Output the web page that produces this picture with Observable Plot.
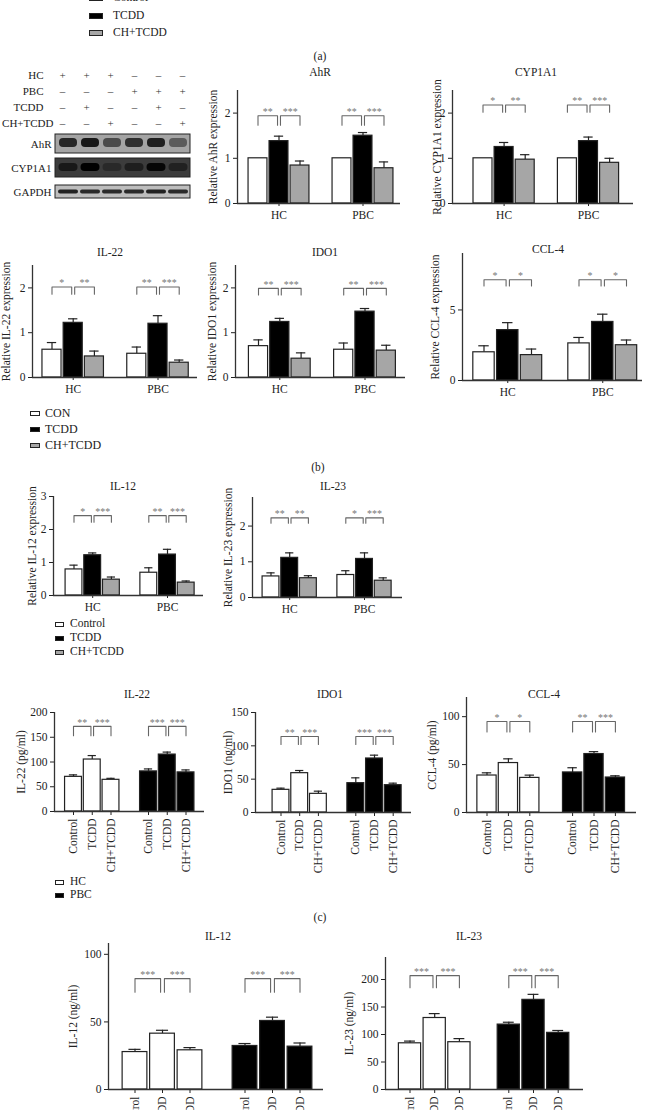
<!DOCTYPE html>
<html><head><meta charset="utf-8">
<script src="https://cdn.jsdelivr.net/npm/d3@7"></script>
<script src="https://cdn.jsdelivr.net/npm/@observablehq/plot@0.6"></script>
<style>
html,body{margin:0;padding:0;background:#fff;}
#root{position:relative;width:650px;height:1110px;overflow:hidden;font-family:"Liberation Serif","Times New Roman",serif;color:#222;}
.t{position:absolute;transform:translate(-50%,-50%);white-space:nowrap;font-size:11.5px;line-height:1;}
.lt{position:absolute;transform:translateY(-50%);white-space:nowrap;line-height:1;}
.sw{position:absolute;box-sizing:border-box;border:1px solid #222;}
svg{overflow:visible;}
</style></head><body><div id="root"></div>
<script>
// ---------- data ----------
const groups = ["HC", "PBC"];
const treatments = ["Control", "TCDD", "CH+TCDD"];
const legendA = ["Control", "TCDD", "CH+TCDD"];
const legendB = ["CON", "TCDD", "CH+TCDD"];

// western blot (a)
const lanes = [1, 2, 3, 4, 5, 6];
const matrixRows = ["HC", "PBC", "TCDD", "CH+TCDD"];
const signHC = ["+", "+", "+", "–", "–", "–"];
const signPBC = ["–", "–", "–", "+", "+", "+"];
const signTCDD = ["–", "+", "–", "–", "+", "–"];
const signCH = ["–", "–", "+", "–", "–", "+"];
const blotNames = ["AhR", "CYP1A1", "GAPDH"];
const ahrBand = [0.85, 0.95, 0.6, 0.8, 0.9, 0.5];
const cypBand = [0.6, 1.0, 0.3, 0.5, 0.9, 0.45];
const gapdhBand = [0.9, 0.85, 0.85, 0.85, 0.9, 0.85];

// relative expression (a)/(b): order HC Control, TCDD, CH+TCDD, PBC Control, TCDD, CH+TCDD
const ahrMean = [1.00, 1.38, 0.84, 1.00, 1.50, 0.78];
const ahrErr = [0, 0.11, 0.10, 0, 0.07, 0.14];
const ahrSig = ["**", "***", "**", "***"];
const cypMean = [1.00, 1.25, 0.97, 1.00, 1.38, 0.90];
const cypErr = [0, 0.10, 0.11, 0, 0.09, 0.10];
const cypSig = ["*", "**", "**", "***"];
const il22bMean = [0.62, 1.22, 0.47, 0.53, 1.20, 0.33];
const il22bErr = [0.16, 0.09, 0.12, 0.15, 0.18, 0.06];
const il22bSig = ["*", "**", "**", "***"];
const ido1bMean = [0.70, 1.24, 0.42, 0.62, 1.47, 0.60];
const ido1bErr = [0.14, 0.08, 0.13, 0.15, 0.07, 0.12];
const ido1bSig = ["**", "***", "**", "***"];
const ccl4bMean = [2.00, 3.57, 1.80, 2.63, 4.15, 2.50];
const ccl4bErr = [0.46, 0.53, 0.43, 0.42, 0.55, 0.37];
const ccl4bSig = ["*", "*", "*", "*"];
const il12bMean = [0.79, 1.22, 0.48, 0.69, 1.24, 0.39];
const il12bErr = [0.13, 0.07, 0.08, 0.15, 0.16, 0.05];
const il12bSig = ["*", "***", "**", "***"];
const il23bMean = [0.59, 1.11, 0.54, 0.63, 1.08, 0.47];
const il23bErr = [0.10, 0.14, 0.07, 0.12, 0.17, 0.08];
const il23bSig = ["**", "**", "*", "***"];

// ELISA (c)
const il22cMean = [70, 105, 64, 81, 115, 79];
const il22cErr = [4, 8, 3, 5, 5, 5];
const il22cSig = ["**", "***", "***", "***"];
const ido1cMean = [34, 59, 28, 44, 81, 41];
const ido1cErr = [2.5, 4, 4, 8, 5, 3];
const ido1cSig = ["**", "***", "***", "***"];
const ccl4cMean = [38.6, 51.6, 36.1, 41.8, 61, 36.5];
const ccl4cErr = [2.8, 4.4, 2.9, 4.9, 2.5, 1.8];
const ccl4cSig = ["*", "*", "**", "***"];
const il12cMean = [27.7, 41.3, 29, 32.2, 50.7, 31.7];
const il12cErr = [2, 2.5, 2, 1.8, 2.8, 2.7];
const il12cSig = ["***", "***", "***", "***"];
const il23cMean = [84, 130, 86, 118, 163, 103];
const il23cErr = [4, 8, 6.5, 4.3, 10, 4.3];
const il23cSig = ["***", "***", "***", "***"];

// ---------- styles ----------
const FONT = '"Liberation Serif","Times New Roman",serif';
const treatFill = {"Control": "#ffffff", "TCDD": "#000000", "CH+TCDD": "#a6a6a6"};
const groupFill = {"HC": "#ffffff", "PBC": "#000000"};
const blotBg = {"AhR": "#a4a4a4", "CYP1A1": "#3c3c3c", "GAPDH": "#bdbdbd"};
const root = document.getElementById("root");

function place(el, left, top) {
  el.style.position = "absolute";
  el.style.left = left + "px";
  el.style.top = top + "px";
  root.appendChild(el);
}
function label(text, x, y, size, cls) {
  const d = document.createElement("div");
  d.className = cls || "t";
  d.textContent = text;
  if (size) d.style.fontSize = size + "px";
  d.style.left = x + "px";
  d.style.top = y + "px";
  root.appendChild(d);
}
function legend(labels, fills, o) {
  labels.forEach((lab, i) => {
    const cy = o.y + i * o.dy;
    const s = document.createElement("div");
    s.className = "sw";
    s.style.left = o.x + "px";
    s.style.top = (cy - o.h / 2) + "px";
    s.style.width = o.w + "px";
    s.style.height = o.h + "px";
    s.style.background = fills[i];
    root.appendChild(s);
    label(lab, o.tx, cy, o.fs, "lt");
  });
}

function barChart(s, means, errs, sig) {
  const svgLeft = Math.max(0, s.labelX - 9);
  const mL = s.axis - svgLeft, mR = 8, mT = 6;
  const mB = s.mode === "b" ? 24 : 72;
  const width = s.end + mR - svgLeft;
  const height = s.zero - s.top + mT + mB;
  const xmin = (s.axis - s.pos0) / s.step, xmax = (s.end - s.pos0) / s.step;
  const rows = means.map((m, i) => ({
    group: groups[Math.floor(i / 3)], treat: treatments[i % 3],
    pos: Math.floor(i / 3) * 4 + (i % 3), mean: m, err: errs[i]
  }));
  const fillOf = d => s.mode === "b" ? treatFill[d.treat] : groupFill[d.group];
  const gap = 0.07;
  const brs = [];
  [0, 1].forEach(g => {
    const b = g * 4;
    brs.push({k: g * 2, x0: b, x1: b + 1 - gap, s: sig[g * 2]});
    brs.push({k: g * 2 + 1, x0: b + 1 + gap, x1: b + 2, s: sig[g * 2 + 1]});
  });
  const pts = brs.flatMap(d => [[d.x0, s.br[1]], [d.x0, s.br[0]], [d.x1, s.br[0]], [d.x1, s.br[1]]]
    .map(([x, y]) => ({k: d.k, x, y})));
  const tl = s.mode === "b" ? new Map([[1, groups[0]], [5, groups[1]]]) : new Map(rows.map(d => [d.pos, d.treat]));
  const withErr = rows.filter(d => d.err > 0);
  const plot = Plot.plot({
    width, height, marginLeft: mL, marginRight: mR, marginTop: mT, marginBottom: mB,
    style: {fontFamily: FONT, fontSize: "11.5px", color: "#222", background: "transparent", overflow: "visible"},
    color: {type: "identity"},
    x: {domain: [xmin, xmax], ticks: [...tl.keys()], tickFormat: v => tl.get(v),
        tickSize: s.mode === "b" ? 3 : 4, tickPadding: s.mode === "b" ? 4 : 3,
        tickRotate: s.mode === "c" ? -90 : 0, label: null},
    y: {domain: [0, s.ymax], ticks: s.yticks, tickFormat: d => String(d), tickSize: 4, tickPadding: 3, label: null},
    marks: [
      Plot.ruleX(withErr, {x: "pos", y1: "mean", y2: d => d.mean + d.err, stroke: "#222", strokeWidth: 1.2}),
      Plot.ruleY(withErr, {y: d => d.mean + d.err, x1: d => d.pos - 0.22, x2: d => d.pos + 0.22, stroke: "#222", strokeWidth: 1.2}),
      Plot.rect(rows, {x1: d => d.pos - 0.45, x2: d => d.pos + 0.45, y1: 0, y2: "mean", fill: fillOf, stroke: "#222", strokeWidth: 1.2}),
      Plot.ruleY([0], {stroke: "#333", strokeWidth: 1.3}),
      Plot.ruleX([xmin], {y1: 0, y2: s.ymax, stroke: "#333", strokeWidth: 1.3}),
      Plot.line(pts, {x: "x", y: "y", z: "k", stroke: "#666", strokeWidth: 1.1}),
      Plot.text(brs, {x: d => (d.x0 + d.x1) / 2, y: s.br[0], text: "s", dy: -4, fill: "#777", fontSize: 10}),
      Plot.text([s.ylabel], {text: d => d, frameAnchor: "left", textAnchor: "middle", rotate: -90, dx: s.labelX - s.axis, fontSize: 11.5, fill: "#222"})
    ]
  });
  place(plot, svgLeft, s.top - mT);
  label(s.title, s.titleX, s.titleY);
}

// ---------- (a) legend ----------
legend(legendA, treatments.map(t => treatFill[t]), {x: 89, y: -2, dy: 17.5, w: 14, h: 6, tx: 113, fs: 11.5});
label("(a)", 320, 57, 11.5);

// ---------- western blot ----------
const signRows = [signHC, signPBC, signTCDD, signCH];
const matrixData = matrixRows.flatMap((r, ri) => lanes.map((l, li) => ({row: r, lane: l, s: signRows[ri][li]})));
const matrix = Plot.plot({
  width: 195, height: 64, marginLeft: 49, marginRight: 0, marginTop: 0, marginBottom: 0,
  style: {fontFamily: FONT, fontSize: "11px", color: "#222", background: "transparent", overflow: "visible"},
  x: {type: "band", domain: lanes, padding: 0, axis: null},
  y: {type: "band", domain: matrixRows, padding: 0, axis: null},
  marks: [
    Plot.text(matrixData, {x: "lane", y: "row", text: "s", fontSize: 11, fill: "#333"}),
    Plot.text(matrixRows.slice(0, 3), {y: d => d, text: d => d, frameAnchor: "left", textAnchor: "end", dx: -6, fontSize: 11}),
    Plot.text(matrixRows.slice(3), {y: d => d, text: d => d, frameAnchor: "left", textAnchor: "end", dx: 4, fontSize: 11})
  ]
});
place(matrix, 0, 67);

const bandRows = [
  ...ahrBand.map((v, i) => ({blot: "AhR", lane: lanes[i], v})),
  ...cypBand.map((v, i) => ({blot: "CYP1A1", lane: lanes[i], v})),
  ...gapdhBand.map((v, i) => ({blot: "GAPDH", lane: lanes[i], v}))
];
const blot = Plot.plot({
  width: 192, height: 74.25, marginLeft: 55, marginRight: 2, marginTop: 0, marginBottom: 0,
  style: {fontFamily: FONT, fontSize: "11px", color: "#222", background: "transparent", overflow: "visible"},
  color: {type: "identity"},
  opacity: {type: "identity"},
  x: {type: "band", domain: lanes, padding: 0, axis: null},
  y: {type: "band", domain: blotNames, paddingInner: 0.2, paddingOuter: 0.1, axis: null},
  marks: [
    Plot.cell(blotNames.slice(0, 2), {y: d => d, fill: d => blotBg[d], stroke: "#222", strokeWidth: 1}),
    Plot.cell(blotNames.slice(2), {y: d => d, fill: d => blotBg[d], stroke: "#222", strokeWidth: 1, insetTop: 3, insetBottom: 3}),
    Plot.cell(bandRows.filter(d => d.blot === "AhR"), {x: "lane", y: "blot", fill: "#111", fillOpacity: "v", insetTop: 4, insetBottom: 6, insetLeft: 2, insetRight: 2, rx: 4}),
    Plot.cell(bandRows.filter(d => d.blot === "CYP1A1"), {x: "lane", y: "blot", fill: "#000", fillOpacity: "v", insetTop: 5, insetBottom: 6, insetLeft: 1.5, insetRight: 1.5, rx: 4}),
    Plot.cell(bandRows.filter(d => d.blot === "GAPDH"), {x: "lane", y: "blot", fill: "#111", fillOpacity: "v", insetTop: 7.5, insetBottom: 7.5, insetLeft: 1, insetRight: 1, rx: 2}),
    Plot.text(blotNames, {y: d => d, text: d => d, frameAnchor: "left", textAnchor: "end", dx: -4, fontSize: 11})
  ]
});
place(blot, 0, 129.6);

// ---------- relative expression charts ----------
barChart({mode: "b", axis: 237, pos0: 257.5, step: 21, end: 400, top: 90, zero: 203, labelX: 213, ymax: 2.5, yticks: [0, 1, 2], br: [1.94, 1.73],
  ylabel: "Relative AhR expression", title: "AhR", titleX: 320, titleY: 73}, ahrMean, ahrErr, ahrSig);
barChart({mode: "b", axis: 452, pos0: 482.5, step: 21.1, end: 633, top: 90, zero: 203, labelX: 437, ymax: 2.5, yticks: [0, 1, 2], br: [2.18, 2.02],
  ylabel: "Relative CYP1A1 expression", title: "CYP1A1", titleX: 536, titleY: 73}, cypMean, cypErr, cypSig);
barChart({mode: "b", axis: 32, pos0: 51.5, step: 21.2, end: 197, top: 265, zero: 377, labelX: 6, ymax: 2.5, yticks: [0, 1, 2], br: [2.02, 1.86],
  ylabel: "Relative IL-22 expression", title: "IL-22", titleX: 110, titleY: 253}, il22bMean, il22bErr, il22bSig);
barChart({mode: "b", axis: 235, pos0: 258, step: 21.3, end: 405, top: 265, zero: 377, labelX: 212, ymax: 2.5, yticks: [0, 1, 2], br: [1.99, 1.84],
  ylabel: "Relative IDO1 expression", title: "IDO1", titleX: 325, titleY: 253}, ido1bMean, ido1bErr, ido1bSig);
barChart({mode: "b", axis: 462, pos0: 483.5, step: 23.75, end: 642, top: 253, zero: 380, labelX: 435, ymax: 9, yticks: [0, 5], br: [7.14, 6.7],
  ylabel: "Relative CCL-4 expression", title: "CCL-4", titleX: 548, titleY: 250}, ccl4bMean, ccl4bErr, ccl4bSig);

legend(legendB, treatments.map(t => treatFill[t]), {x: 30, y: 413, dy: 16, w: 10, h: 5, tx: 45, fs: 12});
label("(b)", 318, 468, 11.5);

barChart({mode: "b", axis: 53, pos0: 73.5, step: 18.7, end: 203, top: 496, zero: 595, labelX: 32, ymax: 3, yticks: [0, 1, 2, 3], br: [2.42, 2.22],
  ylabel: "Relative IL-12 expression", title: "IL-12", titleX: 123, titleY: 487}, il12bMean, il12bErr, il12bSig);
barChart({mode: "b", axis: 252, pos0: 270.5, step: 18.7, end: 402, top: 497, zero: 597, labelX: 228, ymax: 2.8, yticks: [0, 1, 2], br: [2.23, 2.08],
  ylabel: "Relative IL-23 expression", title: "IL-23", titleX: 333, titleY: 487}, il23bMean, il23bErr, il23bSig);

legend(treatments, treatments.map(t => treatFill[t]), {x: 55, y: 624, dy: 14, w: 9, h: 5, tx: 70, fs: 11.5});

// ---------- ELISA charts ----------
barChart({mode: "c", axis: 54, pos0: 73, step: 18.75, end: 204, top: 712, zero: 811, labelX: 21, ymax: 200, yticks: [0, 50, 100, 150, 200], br: [172, 153],
  ylabel: "IL-22 (pg/ml)", title: "IL-22", titleX: 137, titleY: 695}, il22cMean, il22cErr, il22cSig);
barChart({mode: "c", axis: 255, pos0: 280.5, step: 18.7, end: 411, top: 712, zero: 812, labelX: 228, ymax: 150, yticks: [0, 50, 100, 150], br: [114, 102],
  ylabel: "IDO1 (ng/ml)", title: "IDO1", titleX: 330, titleY: 695}, ido1cMean, ido1cErr, ido1cSig);
barChart({mode: "c", axis: 466, pos0: 486.5, step: 21.4, end: 636, top: 697, zero: 812, labelX: 432, ymax: 120, yticks: [0, 50, 100], br: [95, 84],
  ylabel: "CCL-4 (pg/ml)", title: "CCL-4", titleX: 544, titleY: 695}, ccl4cMean, ccl4cErr, ccl4cSig);

legend(groups, groups.map(g => groupFill[g]), {x: 55, y: 882, dy: 13, w: 9, h: 5, tx: 70, fs: 11.5});
label("(c)", 320, 918, 11.5);

barChart({mode: "c", axis: 108, pos0: 134.5, step: 27.5, end: 323, top: 943, zero: 1089, labelX: 73, ymax: 108, yticks: [0, 50, 100], br: [82, 72],
  ylabel: "IL-12 (ng/ml)", title: "IL-12", titleX: 218, titleY: 937}, il12cMean, il12cErr, il12cSig);
barChart({mode: "c", axis: 385, pos0: 409.5, step: 24.7, end: 583, top: 957, zero: 1089, labelX: 349, ymax: 240, yticks: [0, 50, 100, 150, 200], br: [207, 185],
  ylabel: "IL-23 (ng/ml)", title: "IL-23", titleX: 469, titleY: 937}, il23cMean, il23cErr, il23cSig);
</script></body></html>
